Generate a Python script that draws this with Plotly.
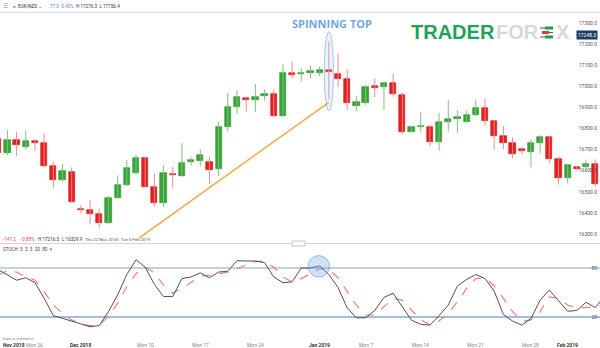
import plotly.graph_objects as go

# ---------------- data ----------------
dates = [
    "2018-11-21", "2018-11-22", "2018-11-23", "2018-11-25", "2018-11-26", "2018-11-27", "2018-11-28",
    "2018-11-29", "2018-11-30", "2018-12-02", "2018-12-03", "2018-12-04", "2018-12-05", "2018-12-06",
    "2018-12-07", "2018-12-09", "2018-12-10", "2018-12-11", "2018-12-12", "2018-12-13", "2018-12-14",
    "2018-12-16", "2018-12-17", "2018-12-18", "2018-12-19", "2018-12-20", "2018-12-21", "2018-12-23",
    "2018-12-24", "2018-12-25", "2018-12-26", "2018-12-27", "2018-12-28", "2018-12-30", "2018-12-31",
    "2019-01-01", "2019-01-02", "2019-01-03", "2019-01-04", "2019-01-06", "2019-01-07", "2019-01-08",
    "2019-01-09", "2019-01-10", "2019-01-11", "2019-01-13", "2019-01-14", "2019-01-15", "2019-01-16",
    "2019-01-17", "2019-01-18", "2019-01-20", "2019-01-21", "2019-01-22", "2019-01-23", "2019-01-24",
    "2019-01-25", "2019-01-27", "2019-01-28", "2019-01-29", "2019-01-30", "2019-01-31", "2019-02-01",
    "2019-02-03", "2019-02-04", "2019-02-05", "2019-02-06",
]

opens = [16750, 16683, 16746, 16711, 16743, 16730, 16622, 16556, 16595, 16419, 16413, 16394, 16349,
         16472, 16532, 16587, 16662, 16524, 16445, 16586, 16576, 16641, 16648, 16640, 16606, 16810,
         16905, 16948, 16937, 16957, 16964, 16860, 17067, 17061, 17064, 17064, 17078, 17060, 17035,
         16910, 16924, 17002, 16997, 17019, 16960, 16786, 16808, 16806, 16737, 16833, 16848, 16832,
         16867, 16900, 16837, 16767, 16733, 16705, 16687, 16730, 16762, 16657, 16564, 16616, 16616,
         16633]
highs = [16770, 16794, 16786, 16791, 16749, 16778, 16643, 16632, 16616, 16437, 16460, 16421, 16479,
         16578, 16651, 16675, 16663, 16587, 16627, 16619, 16733, 16664, 16702, 16667, 16833, 16971,
         16984, 16952, 17013, 16987, 16987, 17108, 17119, 17088, 17099, 17096, 17216.5, 17159, 17083,
         16956, 17008, 17040, 17024, 17064, 16971, 16814, 16881, 16818, 16876, 16937, 16889, 16886,
         16940, 16944, 16840, 16813, 16759, 16711, 16749, 16770, 16765, 16667, 16632, 16622, 16654,
         16654]
lows = [16675, 16675, 16670, 16699, 16695, 16616, 16519, 16548, 16448, 16397, 16345, 16329.9, 16346,
        16468, 16527, 16579, 16521, 16429, 16426, 16516, 16572, 16625, 16622, 16537, 16575, 16786,
        16870, 16881, 16879, 16933, 16857, 16857, 17040, 17024, 17040, 17051, 16940, 17000, 16889,
        16884, 16913, 16949, 16889, 16952, 16775, 16784, 16786, 16718, 16695, 16786, 16781, 16829,
        16860, 16816, 16702, 16702, 16659, 16679, 16616, 16683, 16635, 16535, 16540, 16603, 16611,
        16524]
closes = [16686, 16746, 16722, 16743, 16733, 16622, 16556, 16599, 16451, 16414, 16392, 16349, 16472,
          16532, 16611, 16662, 16524, 16445, 16587, 16578, 16638, 16651, 16676, 16603, 16810, 16902,
          16949, 16935, 16952, 16965, 16860, 17064, 17057, 17067, 17075, 17078, 17069, 17035, 16921,
          16926, 17000, 16994, 17019, 16964, 16786, 16806, 16811, 16737, 16832, 16848, 16856, 16867,
          16900, 16837, 16765, 16733, 16679, 16692, 16730, 16762, 16657, 16564, 16626, 16610, 16633,
          16537]

stoch_k = [78, 72, 65, 68, 62, 43, 21.6, 18.4, 15, 11.5, 8, 9.5, 26.5, 47, 72, 90, 81, 60, 45, 45,
           67, 69, 74, 68, 75, 76, 89, 88.5, 88.5, 86.5, 69, 62, 63, 80, 80, 82.5, 72, 56, 31, 19, 19,
           28, 44, 49, 32.5, 16, 11, 10, 21.6, 34.6, 58, 66, 72, 67, 51.6, 23, 15, 10, 18, 40.7, 53,
           39.5, 27, 28, 38, 31.5, 45]
stoch_d = [71, 77, 75, 69, 65, 51, 34.6, 24.5, 16.4, 11.5, 9.5, 10.3, 20.4, 36.6, 57, 73, 81, 74,
           59, 49, 55, 63, 70, 71, 73, 75, 79, 84, 88, 88, 81, 69, 63, 67, 73, 79, 78, 68, 51, 34.6,
           22.4, 22.4, 32.6, 42.7, 40.7, 28.5, 16.4, 10.3, 15, 24.5, 38.6, 55, 67, 68, 58, 42.7, 26.5,
           15, 16.4, 26.5, 44.7, 42.7, 34.6, 30.5, 31.4, 32.6, 34.6]

price_ticks = [16300, 16400, 16500, 16600, 16700, 16800, 16900, 17000, 17100, 17200, 17300]
x_tick_dates = ["2018-11-22", "2018-11-26", "2018-12-02", "2018-12-10", "2018-12-17", "2018-12-24",
                "2019-01-01", "2019-01-07", "2019-01-14", "2019-01-21", "2019-01-28", "2019-02-01"]
x_tick_labels = ["Nov 2018", "Mon 26", "Dec 2018", "Mon 10", "Mon 17", "Mon 24",
                 "Jan 2019", "Mon 7", "Mon 14", "Mon 21", "Mon 28", "Feb 2019"]
x_tick_major = [True, False, True, False, False, False, True, False, False, False, False, True]

spinning_top_date = "2019-01-02"
trend_pos = [15.33, 36.0]          # position along the session axis
trend_price = [16279, 16926]
last_price = 17248.3
stoch_levels = [20, 80]

# ---------------- helpers ----------------
W, H = 600, 348
def py(p):  # pixel y -> paper
    return 1 - p / H
def px(p):
    return p / W

pos_all = list(range(len(dates)))
n_c = len(opens)
pos_c = pos_all[:n_c]

GREEN, GREEN_LINE, GREEN_WICK = "#3aa63a", "#2b8f2b", "#7cc47c"
RED, RED_LINE, RED_WICK = "#e62020", "#cc1414", "#f08a8a"

up = [c >= o for o, c in zip(opens, closes)]

fig = go.Figure()

# wicks
for flag, col in ((True, GREEN_WICK), (False, RED_WICK)):
    wx, wy = [], []
    for i in range(n_c):
        if up[i] == flag:
            wx += [pos_c[i], pos_c[i], None]
            wy += [lows[i], highs[i], None]
    fig.add_trace(go.Scatter(x=wx, y=wy, mode="lines", line=dict(color=col, width=1),
                             hoverinfo="skip", showlegend=False, xaxis="x", yaxis="y"))

# bodies
fig.add_trace(go.Bar(
    x=pos_c,
    y=[max(abs(c - o), 3) for o, c in zip(opens, closes)],
    base=[min(o, c) for o, c in zip(opens, closes)],
    width=0.68,
    marker=dict(color=[GREEN if u else RED for u in up],
                line=dict(color=[GREEN_LINE if u else RED_LINE for u in up], width=0.6)),
    hoverinfo="skip", showlegend=False, xaxis="x", yaxis="y"))

# trend line
fig.add_trace(go.Scatter(x=trend_pos, y=trend_price, mode="lines",
                         line=dict(color="#f0a83a", width=1.5), hoverinfo="skip",
                         showlegend=False, xaxis="x", yaxis="y"))

# stochastic
fig.add_trace(go.Scatter(x=pos_all, y=stoch_d, mode="lines",
                         line=dict(color="#f07c7c", width=1.2, dash="dash"),
                         hoverinfo="skip", showlegend=False, xaxis="x2", yaxis="y2"))
fig.add_trace(go.Scatter(x=pos_all, y=stoch_k, mode="lines",
                         line=dict(color="#505050", width=1),
                         hoverinfo="skip", showlegend=False, xaxis="x2", yaxis="y2"))

x_range = [0.194, 65.52]
shapes = []
# header line and panel separator
shapes.append(dict(type="line", xref="paper", yref="paper", x0=0, x1=1, y0=py(12.5), y1=py(12.5),
                   line=dict(color="#dcdcdc", width=1)))
shapes.append(dict(type="line", xref="paper", yref="paper", x0=0, x1=1, y0=py(243.5), y1=py(243.5),
                   line=dict(color="#d4d4d4", width=1)))
shapes.append(dict(type="rect", xref="paper", yref="paper", x0=px(292), x1=px(305), y0=py(246),
                   y1=py(241), line=dict(color="#c4c4c4", width=1), fillcolor="white"))
# stoch levels
for lv, col in zip(stoch_levels, ["#87a9cc", "#a9c2dc"]):
    shapes.append(dict(type="line", xref="paper", yref="y2", x0=0, x1=1, y0=lv, y1=lv,
                       line=dict(color=col, width=1.4), layer="below"))
# spinning top ellipse
st = dates.index(spinning_top_date)
shapes.append(dict(type="circle", xref="x", yref="y", x0=st - 0.5, x1=st + 0.5, y0=16885, y1=17262,
                   line=dict(color="rgba(110,160,215,0.6)", width=1),
                   fillcolor="rgba(170,205,240,0.22)"))
# stoch circle
cx, cy = st - 1.1, 82
shapes.append(dict(type="circle", xref="x2", yref="y2", x0=cx - 1.18, x1=cx + 1.18,
                   y0=cy - 13.2, y1=cy + 13.2, line=dict(color="rgba(100,150,215,0.6)", width=1),
                   fillcolor="rgba(120,170,230,0.35)"))
# logo icon (three mini candles)
for (x0, x1, y0, y1, col) in [(545, 553, 26.5, 29.5, "#1e9c4c"), (542, 549, 31, 34, "#e23b3b"),
                              (545, 553, 35.5, 38.5, "#1e9c4c")]:
    shapes.append(dict(type="rect", xref="paper", yref="paper", x0=px(x0), x1=px(x1), y0=py(y1),
                       y1=py(y0), line=dict(width=0), fillcolor=col))
for (x0, x1, yy) in [(540, 545, 28), (549, 553, 32.5), (540, 545, 37)]:
    shapes.append(dict(type="line", xref="paper", yref="paper", x0=px(x0), x1=px(x1), y0=py(yy),
                       y1=py(yy), line=dict(color="#555", width=1)))

FONT = "Roboto"
ann = []
def txt(x, y, s, size=5, color="#444", anchor="left", bold=False, family=FONT, **kw):
    ann.append(dict(x=px(x), y=py(y), xref="paper", yref="paper", text=f"<b>{s}</b>" if bold else s,
                    showarrow=False, xanchor=anchor, yanchor="middle",
                    font=dict(size=size, color=color, family=family), **kw))

# header
txt(1, 6, "☰", size=5.5, color="#888")
txt(11, 6, "●", size=4.5, color="#22a33a")
txt(16, 6, "EUR/NZD ⌄", size=4.6, color="#333")
txt(48, 6, "77.0  0.45%", size=4.6, color="#4a8fd6")
txt(74, 6, "H 17276.3  L 17156.4", size=4.6, color="#333")
# stats line
txt(1, 239, "-147.2", size=4.6, color="#e04848")
txt(19, 239, "-0.88%", size=4.6, color="#e04848")
txt(36, 239, "H 17216.5", size=4.6, color="#333")
txt(60, 239, "L 16329.9", size=4.6, color="#333")
txt(83, 239, "Thu 22 Nov 2018 - Tue 5 Feb 2019", size=4.3, color="#555")
txt(1, 249.5, "STOCH  5  3  3  20  80  ×", size=4.6, color="#444")
txt(1, 338, "Data is indicative", size=4, color="#888")

# x tick labels (placed at their session positions)
for d, lab, major in zip(x_tick_dates, x_tick_labels, x_tick_major):
    p = dates.index(d)
    if d == x_tick_dates[0]:
        ann.append(dict(x=px(1), y=py(345), xref="paper", yref="paper", text=f"<b>{lab}</b>",
                        showarrow=False, xanchor="left", yanchor="middle",
                        font=dict(size=5, color="#333", family=FONT)))
        continue
    ann.append(dict(x=p, y=py(345), xref="x2", yref="paper",
                    text=f"<b>{lab}</b>" if major else lab, showarrow=False, xanchor="center",
                    yanchor="middle",
                    font=dict(size=5, color="#333" if major else "#888", family=FONT)))

# title annotation + logo
txt(332, 23, "SPINNING TOP", size=11, color="#72a9dc", anchor="center", bold=True, family="Open Sans")
txt(409, 32.5, "TRADER", size=20, color="#1fa35a", bold=True, family="Liberation Sans")
txt(494, 32.5, "FOR", size=20, color="#d8d8d8", bold=True, family="Liberation Sans")
txt(554, 32.5, "X", size=20, color="#d8d8d8", bold=True, family="Liberation Sans")

# last price tag
ann.append(dict(x=px(598), y=last_price, xref="paper", yref="y", text=f"{last_price}",
                showarrow=False, xanchor="right", yanchor="middle", bgcolor="#1f3c64",
                borderpad=1, font=dict(size=5, color="white", family=FONT)))

fig.update_layout(
    width=W, height=H, margin=dict(l=0, r=0, t=0, b=0),
    paper_bgcolor="white", plot_bgcolor="white",
    showlegend=False, bargap=0,
    xaxis=dict(domain=[0, 1], range=x_range, showticklabels=False, showgrid=False,
               zeroline=False, ticks="", anchor="y"),
    xaxis2=dict(domain=[0, 1], range=x_range, matches="x", showticklabels=False, showgrid=False,
                zeroline=False, ticks="", anchor="y2"),
    yaxis=dict(domain=[py(243), py(13)], range=[16256, 17351], side="right", anchor="x",
               tickvals=price_ticks, ticktext=[f"{v}.0" for v in price_ticks],
               ticklabelposition="inside", ticks="", showgrid=False, zeroline=False,
               showline=False, tickfont=dict(size=5, color="#555", family=FONT)),
    yaxis2=dict(domain=[py(336), py(246)], range=[-3.3, 106.9], side="right", anchor="x2",
                tickvals=stoch_levels, ticktext=[str(v) for v in stoch_levels],
                ticklabelposition="inside", ticks="", showgrid=False, zeroline=False,
                showline=False, tickfont=dict(size=5, color="#555", family=FONT)),
    shapes=shapes, annotations=ann,
)

fig.write_html("out.html")
